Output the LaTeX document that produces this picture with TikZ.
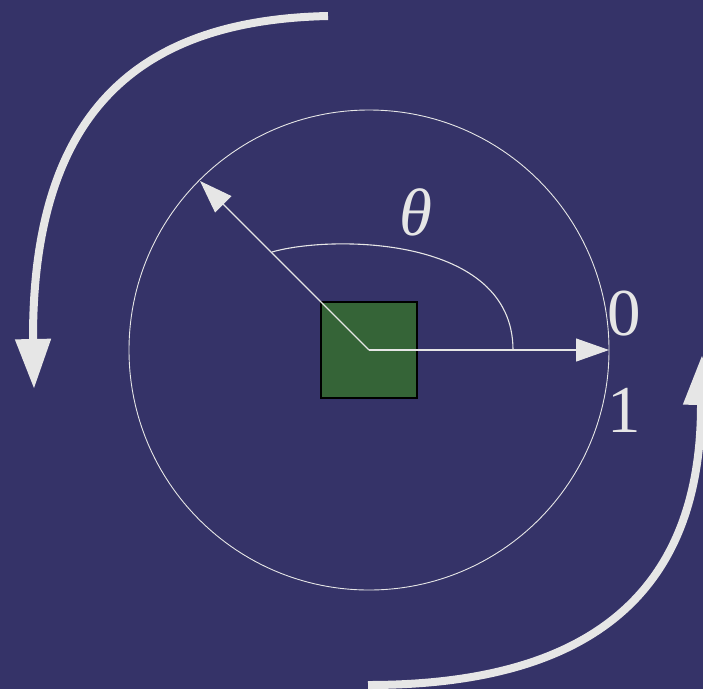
\documentclass[tikz,border=0pt]{standalone}
\usepackage{fontspec}
\setmainfont{Liberation Serif}
\usetikzlibrary{arrows.meta, positioning}
\definecolor{nightblue}{RGB}{53, 51, 104}
\definecolor{leafgreen}{RGB}{53, 100, 55}
\definecolor{paleline}{RGB}{230, 230, 230}

\begin{document}
\begin{tikzpicture}[
        x=1pt, y=-1pt,
        rim/.style={draw=paleline, line width=0.9pt},
        rotor/.style={rectangle, draw=black, fill=leafgreen, line width=1.3pt, minimum size=96pt, inner sep=0pt},
        ray/.style={-{Triangle[length=33pt, width=23pt]}, color=paleline, line width=1.1pt},
        sweep/.style={draw=paleline, line width=1.1pt},
        spin/.style={-{Triangle[length=50pt, width=34pt]}, color=paleline, line width=8pt},
        mark label/.style={font=\fontsize{67}{67}\selectfont, text=paleline, inner sep=0pt}
    ]
        % Background
        \fill[nightblue] (0,0) rectangle (703,689);
        \useasboundingbox (0,0) rectangle (703,689);

        % Circle and body
        \draw[rim] (369,350) circle[radius=240];
        \node[rotor] (body) at (369,350) {};

        % Free ends
        \coordinate (zero) at (609,350);
        \coordinate (turned) at (200,181);
        \coordinate (sweepstart) at (513,350);
        \coordinate (sweepend) at (272,252);
        \coordinate (upstart) at (328,16);
        \coordinate (uptip) at (34,389);
        \coordinate (downstart) at (368,685);
        \coordinate (downtip) at (702,355);

        % Labels
        \node[mark label] (theta) at (416,212) {\textit{θ}};
        \node[mark label] (zerolabel) at (624,314) {0};
        \node[mark label] (onelabel) at (624,410) {1};

        % Radius arrows and angle
        \draw[ray] (body.center) -- (zero);
        \draw[ray] (body.center) -- (turned);
        \draw[sweep] (sweepstart) .. controls (513,235) and (330,235) .. (sweepend);

        % Rotation arrows
        \draw[spin] (upstart) .. controls (140,20) and (33,110) .. (33,338) -- (uptip);
        \draw[spin] (downstart) .. controls (605,685) and (701,580) .. (701,405) -- (downtip);

    \end{tikzpicture}
\end{document}
